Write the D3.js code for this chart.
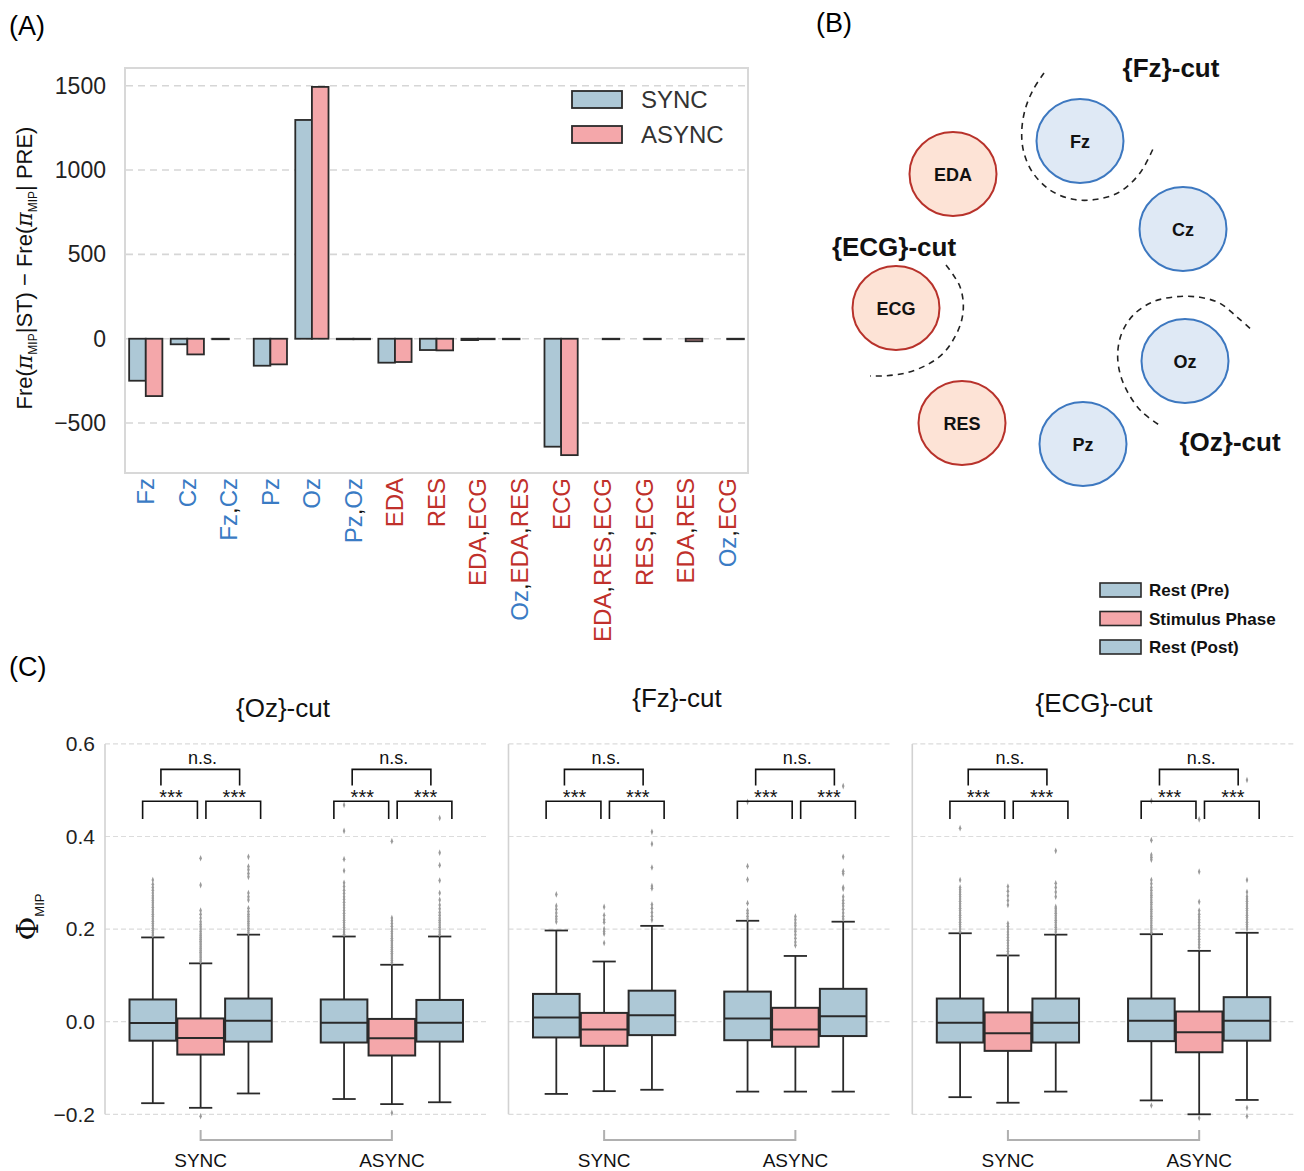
<!DOCTYPE html>
<html><head><meta charset="utf-8">
<script src="https://cdn.jsdelivr.net/npm/d3@7/dist/d3.min.js"></script>
<style>
html,body{margin:0;padding:0;background:#fff;}
svg text{font-family:"Liberation Sans",Arial,Helvetica,sans-serif;}
</style></head><body>
<svg id="fig" width="1304" height="1171" xmlns="http://www.w3.org/2000/svg"></svg>
<script>
// ================= DATA =================
// Panel A
const barCategories = ["Fz","Cz","Fz,Cz","Pz","Oz","Pz,Oz","EDA","RES","EDA,ECG","Oz,EDA,RES","ECG","EDA,RES,ECG","RES,ECG","EDA,RES","Oz,ECG"];
const barSeries = ["SYNC","ASYNC"];
const barSync  = [-249,-33,-3,-160,1297,-3,-142,-67,-8,-3,-640,null,null,null,null];
const barAsync = [-340,-93,null,-152,1493,-3,-138,-69,-3,null,-690,-3,-3,-15,-3];
const barTicks = [-500,0,500,1000,1500];
const eegChannels = ["Fz","Cz","Pz","Oz"];

// Panel B (schematic units relative to panel origin)
const nodeNames = ["Fz","EDA","Cz","ECG","Oz","RES","Pz"];
const nodeX = [260,133,363,76,365,142,263];
const nodeY = [101,134,189,268,321,383,404];
const cutLabels = ["{Fz}-cut","{ECG}-cut","{Oz}-cut"];
const cutLabelX = [351,74,410];
const cutLabelY = [37,216,411];
const cutArcFz  = [[224,33],[213,50],[205,70],[201.7,93],[204,113],[213,133],[230,150],[253,159.3],[277,159.3],[300,151.7],[320,133],[334.3,106]];
const cutArcEcg = [[126,225],[133.3,235],[140,246.7],[143.3,263.3],[141.7,280],[135,296.7],[123.3,313.3],[106.7,325],[86.7,332.7],[66.7,335.7],[50,336]];
const cutArcOz  = [[430,288.3],[416.7,276.7],[400,263.3],[380,257.3],[356.7,256.7],[333.3,261.7],[313.3,275],[301.7,293.3],[297.7,313.3],[300,333.3],[308.3,353.3],[321.7,371.7],[339.3,385]];

// Panel C
const boxTitles = ["{Oz}-cut","{Fz}-cut","{ECG}-cut"];
const boxConditions = ["SYNC","ASYNC"];
const boxPhases = ["Rest (Pre)","Stimulus Phase","Rest (Post)"];
const boxTicks = [-0.2,0,0.2,0.4,0.6];
// [lower whisker, q1, median, q3, upper whisker] for Pre, Stimulus, Post
const ozSync   = [[-0.176,-0.041,-0.003,0.048,0.182],[-0.186,-0.071,-0.035,0.007,0.126],[-0.155,-0.043,0.002,0.050,0.188]];
const ozAsync  = [[-0.167,-0.045,-0.002,0.048,0.184],[-0.178,-0.073,-0.036,0.006,0.123],[-0.174,-0.043,-0.002,0.047,0.184]];
const fzSync   = [[-0.156,-0.034,0.009,0.060,0.197],[-0.150,-0.052,-0.017,0.019,0.130],[-0.147,-0.029,0.014,0.067,0.207]];
const fzAsync  = [[-0.151,-0.040,0.007,0.065,0.218],[-0.151,-0.054,-0.017,0.030,0.142],[-0.151,-0.031,0.012,0.071,0.216]];
const ecgSync  = [[-0.163,-0.045,-0.002,0.050,0.191],[-0.175,-0.063,-0.025,0.020,0.143],[-0.151,-0.045,-0.002,0.050,0.188]];
const ecgAsync = [[-0.170,-0.042,0.002,0.050,0.189],[-0.200,-0.066,-0.023,0.022,0.153],[-0.169,-0.041,0.002,0.053,0.192]];
// outliers
const ozSyncOut = [
 [0.187,0.192,0.197,0.202,0.207,0.212,0.217,0.222,0.227,0.232,0.237,0.242,0.247,0.252,0.257,0.262,0.267,0.272,0.278,0.284,0.29,0.297,0.306],
 [0.13,0.134,0.138,0.142,0.146,0.15,0.154,0.158,0.162,0.166,0.17,0.174,0.178,0.182,0.186,0.19,0.195,0.2,0.205,0.21,0.216,0.224,0.232,0.24,0.295,0.353,-0.204],
 [0.192,0.197,0.202,0.207,0.212,0.217,0.222,0.227,0.232,0.238,0.245,0.263,0.27,0.278,0.313,0.32,0.328,0.335,0.356]];
const ozAsyncOut = [
 [0.189,0.194,0.199,0.204,0.209,0.214,0.219,0.224,0.229,0.234,0.24,0.246,0.252,0.258,0.264,0.27,0.277,0.284,0.292,0.3,0.326,0.351,0.412,0.468],
 [0.128,0.132,0.136,0.14,0.144,0.148,0.152,0.156,0.16,0.164,0.168,0.172,0.176,0.18,0.185,0.19,0.195,0.2,0.206,0.212,0.218,0.224,0.39,-0.197],
 [0.189,0.194,0.199,0.204,0.209,0.214,0.219,0.224,0.23,0.236,0.244,0.252,0.263,0.278,0.305,0.338,0.365,0.44]];
const fzSyncOut = [
 [0.216,0.222,0.228,0.235,0.243,0.25,0.275],
 [0.17,0.19,0.195,0.2,0.215,0.22,0.23,0.248],
 [0.22,0.228,0.236,0.245,0.253,0.288,0.293,0.333,0.384,0.41]];
const fzAsyncOut = [
 [0.222,0.228,0.234,0.24,0.256,0.307,0.336,0.475],
 [0.165,0.172,0.18,0.188,0.195,0.2,0.207,0.213,0.22,0.227],
 [0.222,0.228,0.235,0.243,0.25,0.256,0.262,0.27,0.287,0.29,0.32,0.325,0.356,0.509]];
const ecgSyncOut = [
 [0.195,0.2,0.205,0.21,0.215,0.22,0.225,0.23,0.235,0.24,0.245,0.25,0.255,0.26,0.265,0.27,0.275,0.28,0.285,0.29,0.306,0.418],
 [0.146,0.152,0.158,0.164,0.17,0.176,0.182,0.188,0.194,0.2,0.206,0.212,0.252,0.262,0.272,0.282,0.292],
 [0.194,0.199,0.204,0.209,0.214,0.219,0.224,0.229,0.234,0.239,0.244,0.248,0.27,0.28,0.29,0.299,0.369]];
const ecgAsyncOut = [
 [0.193,0.198,0.203,0.208,0.213,0.218,0.223,0.228,0.233,0.238,0.243,0.248,0.253,0.258,0.263,0.268,0.273,0.278,0.284,0.29,0.298,0.306,0.35,0.355,0.36,0.392,0.477,-0.181],
 [0.16,0.166,0.172,0.178,0.184,0.19,0.196,0.202,0.208,0.214,0.22,0.226,0.232,0.24,0.259,0.324,0.437,-0.208],
 [0.2,0.205,0.21,0.215,0.22,0.225,0.23,0.235,0.24,0.245,0.25,0.255,0.26,0.265,0.27,0.28,0.306,0.522,-0.186,-0.204]];
const innerSig = ["***","***"];
const outerSig = "n.s.";

// ================= STYLE =================
const BLUE_TXT = "#3a7bc4", RED_TXT = "#c0302b";
const C_SYNC = "#adc8d6", C_ASYNC = "#f4a7aa";
const EDGE = "#2a2a2a";
const svg = d3.select("#fig");

// panel labels
svg.append("text").attr("x",9).attr("y",35).attr("font-size",27).text("(A)");
svg.append("text").attr("x",816).attr("y",32).attr("font-size",27).text("(B)");
svg.append("text").attr("x",9).attr("y",676).attr("font-size",27).text("(C)");

// ================= PANEL A =================
(function(){
  const L=125,R=748,T=68,B=473;
  const x = d3.scaleBand().domain(barCategories).range([L,R]);
  const sub = d3.scaleBand().domain(barSeries).range([0.1*x.bandwidth(),0.9*x.bandwidth()]);
  const y = d3.scaleLinear().domain([-796,1605]).range([B,T]);
  const g = svg.append("g");
  g.append("rect").attr("x",L).attr("y",T).attr("width",R-L).attr("height",B-T)
    .attr("fill","none").attr("stroke","#d8d8d8").attr("stroke-width",2);
  g.selectAll("line.grid").data(barTicks).join("line")
    .attr("x1",L+1).attr("x2",R-1).attr("y1",d=>y(d)).attr("y2",d=>y(d))
    .attr("stroke","#d6d6d6").attr("stroke-width",1.6).attr("stroke-dasharray","7,5");
  const ax = g.append("g").attr("transform",`translate(${L},0)`)
    .call(d3.axisLeft(y).tickValues(barTicks).tickSize(0).tickPadding(19).tickFormat(d=>d<0?"\u2212"+Math.abs(d):d));
  ax.select(".domain").remove();
  ax.selectAll("text").attr("font-size",23).attr("fill","#222").attr("font-family","Liberation Sans, Arial, sans-serif");
  const rows=[];
  barCategories.forEach((c,i)=>{
    [barSync[i],barAsync[i]].forEach((v,j)=>{ if(v!==null) rows.push({c,s:barSeries[j],v}); });
  });
  g.selectAll("rect.bar").data(rows).join("rect")
    .attr("x",d=>x(d.c)+sub(d.s)).attr("width",sub.bandwidth())
    .attr("y",d=>Math.min(y(d.v),y(0))).attr("height",d=>Math.abs(y(d.v)-y(0)))
    .attr("fill",d=>d.s==="SYNC"?C_SYNC:C_ASYNC).attr("stroke",EDGE).attr("stroke-width",1.8);
  // x labels with coloured tokens
  barCategories.forEach(c=>{
    const t = g.append("text")
      .attr("transform",`translate(${x(c)+x.bandwidth()/2},478) rotate(-90)`)
      .attr("text-anchor","end").attr("dy","0.35em").attr("font-size",24);
    const toks = c.split(",");
    toks.forEach((tok,k)=>{
      t.append("tspan").attr("fill",eegChannels.includes(tok)?BLUE_TXT:RED_TXT).text(tok);
      if(k<toks.length-1) t.append("tspan").attr("fill","#111").text(",");
    });
  });
  // legend
  barSeries.forEach((s,i)=>{
    g.append("rect").attr("x",572).attr("y",91+i*35).attr("width",50).attr("height",17)
      .attr("fill",i===0?C_SYNC:C_ASYNC).attr("stroke",EDGE).attr("stroke-width",1.8);
    g.append("text").attr("x",641).attr("y",108+i*35).attr("font-size",24).attr("fill","#333").text(s);
  });
  // y label
  const yl = g.append("text").attr("transform","translate(32,268) rotate(-90)")
    .attr("text-anchor","middle").attr("font-size",22).attr("fill","#111");
  yl.append("tspan").text("Fre(");
  yl.append("tspan").attr("font-family","DejaVu Serif, serif").attr("font-style","italic").text("\u03C0");
  yl.append("tspan").attr("font-size",12).attr("dy",5).text("MIP");
  yl.append("tspan").attr("dy",-5).text("|ST) \u2212 Fre(");
  yl.append("tspan").attr("font-family","DejaVu Serif, serif").attr("font-style","italic").text("\u03C0");
  yl.append("tspan").attr("font-size",12).attr("dy",5).text("MIP");
  yl.append("tspan").attr("dy",-5).text("| PRE)");
})();

// ================= PANEL B =================
(function(){
  const xB = d3.scaleLinear().domain([0,480]).range([820,1300]);
  const yB = d3.scaleLinear().domain([0,480]).range([40,520]);
  const g = svg.append("g");
  const line = d3.line().x(d=>xB(d[0])).y(d=>yB(d[1])).curve(d3.curveCatmullRom);
  [cutArcFz,cutArcEcg,cutArcOz].forEach(pts=>{
    g.append("path").attr("d",line(pts)).attr("fill","none").attr("stroke","#222")
      .attr("stroke-width",1.6).attr("stroke-dasharray","6,5");
  });
  nodeNames.forEach((n,i)=>{
    const eeg = eegChannels.includes(n);
    g.append("ellipse").attr("cx",xB(nodeX[i])).attr("cy",yB(nodeY[i])).attr("rx",43.5).attr("ry",42)
      .attr("fill",eeg?"#dfe9f5":"#fde3d6").attr("stroke",eeg?"#3d78c0":"#b8322b").attr("stroke-width",2);
    g.append("text").attr("x",xB(nodeX[i])).attr("y",yB(nodeY[i])+6.5).attr("text-anchor","middle")
      .attr("font-size",18).attr("font-weight","bold").attr("fill","#111").text(n);
  });
  cutLabels.forEach((c,i)=>{
    g.append("text").attr("x",xB(cutLabelX[i])).attr("y",yB(cutLabelY[i])).attr("text-anchor","middle")
      .attr("font-size",26).attr("font-weight","bold").attr("fill","#111").text(c);
  });
})();

// ================= PANEL C =================
(function(){
  const y = d3.scaleLinear().domain([-0.2,0.6]).range([1114.3,743.9]);
  const cLeft=[105,508.5,912.3], cWidth=382.5;
  const titleX=[283,677,1094], titleY=[717,707,712];
  const boxData=[[ozSync,ozAsync],[fzSync,fzAsync],[ecgSync,ecgAsync]];
  const outData=[[ozSyncOut,ozAsyncOut],[fzSyncOut,fzAsyncOut],[ecgSyncOut,ecgAsyncOut]];
  const phaseColor=[C_SYNC,C_ASYNC,C_SYNC];
  const diamond = d3.symbol().type(d3.symbolDiamond).size(9);
  boxTitles.forEach((title,s)=>{
    const g = svg.append("g");
    const L=cLeft[s], R=cLeft[s]+cWidth;
    const x = d3.scaleBand().domain(boxConditions).range([L,R]);
    const hue = d3.scaleBand().domain(boxPhases).range([-0.375*x.bandwidth(),0.375*x.bandwidth()]);
    const bw = hue.bandwidth()*0.975;
    g.selectAll("line.grid").data(boxTicks).join("line")
      .attr("x1",L).attr("x2",R).attr("y1",d=>y(d)).attr("y2",d=>y(d))
      .attr("stroke","#dcdcdc").attr("stroke-width",1.2).attr("stroke-dasharray","5,3");
    g.append("line").attr("x1",L).attr("x2",L).attr("y1",y(0.6)).attr("y2",y(-0.2))
      .attr("stroke","#d2d2d2").attr("stroke-width",1.6);
    if(s===0){
      const ax = g.append("g").attr("transform",`translate(${L},0)`)
        .call(d3.axisLeft(y).tickValues(boxTicks).tickSize(0).tickPadding(10)
          .tickFormat(d=>d<0?"\u2212"+Math.abs(d).toFixed(1):d.toFixed(1)));
      ax.select(".domain").remove();
      ax.selectAll("text").attr("font-size",21).attr("fill","#222").attr("font-family","Liberation Sans, Arial, sans-serif");
    }
    g.append("text").attr("x",titleX[s]).attr("y",titleY[s]).attr("text-anchor","middle")
      .attr("font-size",26).attr("fill","#111").text(title);
    boxConditions.forEach((cond,c)=>{
      const gc = x(cond)+x.bandwidth()/2;
      boxPhases.forEach((ph,p)=>{
        const st = boxData[s][c][p];
        const cx = gc+hue(ph)+hue.bandwidth()/2;
        [[st[0],st[1]],[st[3],st[4]]].forEach(([a,b])=>{
          g.append("line").attr("x1",cx).attr("x2",cx).attr("y1",y(a)).attr("y2",y(b))
            .attr("stroke",EDGE).attr("stroke-width",1.8);
        });
        [st[0],st[4]].forEach(v=>{
          g.append("line").attr("x1",cx-bw/4).attr("x2",cx+bw/4).attr("y1",y(v)).attr("y2",y(v))
            .attr("stroke",EDGE).attr("stroke-width",1.8);
        });
        g.append("rect").attr("x",cx-bw/2).attr("width",bw).attr("y",y(st[3])).attr("height",y(st[1])-y(st[3]))
          .attr("fill",phaseColor[p]).attr("stroke",EDGE).attr("stroke-width",2);
        g.append("line").attr("x1",cx-bw/2).attr("x2",cx+bw/2).attr("y1",y(st[2])).attr("y2",y(st[2]))
          .attr("stroke",EDGE).attr("stroke-width",2);
        g.selectAll(null).data(outData[s][c][p]).join("path")
          .attr("d",diamond).attr("transform",d=>`translate(${cx},${y(d)}) scale(0.8,1.2)`)
          .attr("fill","#9a9a9a");
      });
      const lo=y(0.438), hiL=y(0.476);
      const bl=[[gc-58,gc-3.2],[gc+5.3,gc+60]];
      bl.forEach(([a,b],k)=>{
        g.append("path").attr("d",`M${a},${lo}V${hiL}H${b}V${lo}`).attr("fill","none")
          .attr("stroke","#111").attr("stroke-width",1.6);
        g.append("text").attr("x",(a+b)/2+1).attr("y",hiL+3).attr("text-anchor","middle")
          .attr("font-size",20).attr("fill","#111").text(innerSig[k]);
      });
      const lo2=y(0.51), hi2=y(0.545);
      g.append("path").attr("d",`M${gc-39.7},${lo2}V${hi2}H${gc+39}V${lo2}`).attr("fill","none")
        .attr("stroke","#111").attr("stroke-width",1.6);
      g.append("text").attr("x",gc+2).attr("y",hi2-5.5).attr("text-anchor","middle")
        .attr("font-size",18).attr("fill","#111").text(outerSig);
      g.append("text").attr("x",gc).attr("y",1167).attr("text-anchor","middle")
        .attr("font-size",19).attr("fill","#111").text(cond);
    });
    const g0 = x(boxConditions[0])+x.bandwidth()/2, g1 = x(boxConditions[1])+x.bandwidth()/2;
    g.append("path").attr("d",`M${g0},1130V1140H${g1}V1130`).attr("fill","none")
      .attr("stroke","#b0b0b0").attr("stroke-width",2);
  });
  const yl = svg.append("text").attr("transform","translate(38,917) rotate(-90)").attr("text-anchor","middle").attr("fill","#111");
  yl.append("tspan").attr("font-family","DejaVu Serif, serif").attr("font-size",29).text("\u03A6");
  yl.append("tspan").attr("font-size",13).attr("dy",6).text("MIP");
  boxPhases.forEach((ph,i)=>{
    svg.append("rect").attr("x",1100).attr("y",583+i*28.5).attr("width",41).attr("height",14)
      .attr("fill",[C_SYNC,C_ASYNC,C_SYNC][i]).attr("stroke",EDGE).attr("stroke-width",1.6);
    svg.append("text").attr("x",1149).attr("y",596+i*28.5).attr("font-size",17).attr("font-weight","bold")
      .attr("fill","#111").text(ph);
  });
})();
</script></body></html>
